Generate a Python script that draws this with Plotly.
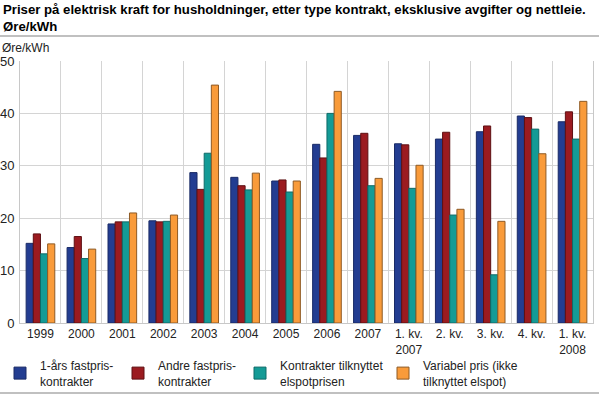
import plotly.graph_objects as go

categories = ["1999", "2000", "2001", "2002", "2003", "2004", "2005", "2006", "2007",
              "1. kv.<br>2007", "2. kv.", "3. kv.", "4. kv.", "1. kv.<br>2008"]

series_names = ["1-års fastpris-<br>kontrakter", "Andre fastpris-<br>kontrakter",
                "Kontrakter tilknyttet<br>elspotprisen", "Variabel pris (ikke<br>tilknyttet elspot)"]

ettars_fastpris = [15.2, 14.4, 18.9, 19.5, 28.7, 27.8, 27.1, 34.1, 35.8, 34.2, 35.1, 36.5, 39.5, 38.4]
andre_fastpris = [17.0, 16.5, 19.3, 19.3, 25.5, 26.2, 27.3, 31.5, 36.2, 34.0, 36.4, 37.6, 39.2, 40.3]
elspot = [13.2, 12.3, 19.3, 19.4, 32.4, 25.4, 25.0, 40.0, 26.2, 25.7, 20.6, 9.2, 37.0, 35.1]
variabel = [15.1, 14.1, 21.0, 20.6, 45.4, 28.6, 27.1, 44.2, 27.6, 30.1, 21.7, 19.4, 32.3, 42.3]

colors = ["#233D91", "#9B1B20", "#149B96", "#F99B3A"]
line_colors = ["#1A2B66", "#5E1013", "#0E6B68", "#8E5A25"]

W, H = 599, 396
L, R, T, B = 20, 6, 61, 73
pw, ph = W - L - R, H - T - B


def px(xp):
    return (xp - L) / pw


def py(yp):
    return (H - B - yp) / ph


font = "Liberation Sans, Arial, sans-serif"
fig = go.Figure()
data = [ettars_fastpris, andre_fastpris, elspot, variabel]
legend_ids = ["legend", "legend2", "legend3", "legend4"]
legend_x = [0, 118, 240, 383]
for i in range(4):
    fig.add_trace(go.Bar(
        x=categories, y=data[i], name=series_names[i],
        marker=dict(color=colors[i], line=dict(color=line_colors[i], width=1)),
        legend=legend_ids[i],
    ))

layout_legends = {}
for i, lid in enumerate(legend_ids):
    layout_legends[lid] = dict(
        x=px(legend_x[i]), y=py(351), xanchor="left", yanchor="top",
        orientation="h", font=dict(family=font, size=12, color="#222"),
        bgcolor="rgba(0,0,0,0)", itemwidth=30, tracegroupgap=0,
    )

fig.update_layout(
    width=W, height=H,
    margin=dict(l=L, r=R, t=T, b=B, pad=0, autoexpand=False),
    paper_bgcolor="white", plot_bgcolor="white",
    barmode="group", bargap=0.3, bargroupgap=0.0,
    font=dict(family=font, size=12, color="#222"),
    showlegend=True,
    xaxis=dict(
        type="category", tickson="boundaries", showgrid=True, gridcolor="#d4d4d4",
        gridwidth=1, showline=True, linecolor="#c8c8c8", linewidth=1, ticks="",
        tickfont=dict(family=font, size=12, color="#222"), fixedrange=True,
        automargin=False,
    ),
    yaxis=dict(
        range=[0, 50], dtick=10, showgrid=True, gridcolor="#d4d4d4", gridwidth=1,
        showline=True, mirror=True, linecolor="#c8c8c8", linewidth=1, ticks="",
        zeroline=False, tickfont=dict(family=font, size=13, color="#222"),
        ticklabelstandoff=2, automargin=False,
    ),
    annotations=[
        dict(text="<b>Priser på elektrisk kraft for husholdninger, etter type kontrakt, eksklusive avgifter og nettleie.</b><br><b>Øre/kWh</b>",
             xref="paper", yref="paper", x=px(1), y=py(0), xanchor="left", yanchor="top",
             showarrow=False, align="left", font=dict(family=font, size=13.2, color="#000")),
        dict(text="Øre/kWh", xref="paper", yref="paper", x=px(0), y=py(39),
             xanchor="left", yanchor="top", showarrow=False,
             font=dict(family=font, size=12, color="#222")),
    ],
    shapes=[
        dict(type="line", xref="paper", yref="paper", x0=px(0), x1=px(W), y0=py(36), y1=py(36),
             line=dict(color="#c0c0c0", width=2)),
        dict(type="line", xref="paper", yref="paper", x0=px(0), x1=px(W), y0=py(393), y1=py(393),
             line=dict(color="#c0c0c0", width=2)),
    ],
    **layout_legends,
)

fig.write_html("out.html", config={"displayModeBar": False},
               post_script="document.body.style.margin='0';document.body.style.overflow='hidden';")
